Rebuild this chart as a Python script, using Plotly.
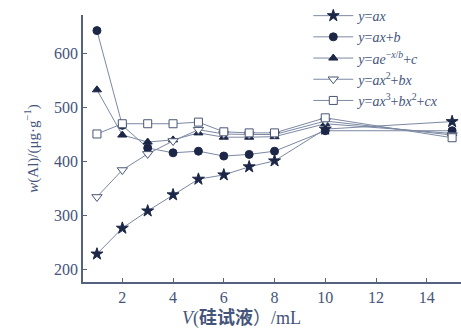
import plotly.graph_objects as go

V = [1, 2, 3, 4, 5, 6, 7, 8, 10, 15]
y_ax = [228, 276, 308, 338, 367, 375, 390, 401, 460, 474]
y_axb = [643, 467, 425, 416, 419, 410, 413, 419, 457, 457]
y_exp = [533, 449, 436, 440, 453, 445, 445, 446, 470, 452]
y_quad = [334, 384, 414, 438, 459, 451, 450, 450, 475, 449]
y_cubic = [451, 470, 470, 470, 473, 455, 453, 453, 481, 444]

names = [
    "<i>y</i>=<i>ax</i>",
    "<i>y</i>=<i>ax</i>+<i>b</i>",
    "<i>y</i>=<i>ae</i><sup>−<i>x</i>/<i>b</i></sup>+<i>c</i>",
    "<i>y</i>=<i>ax</i><sup>2</sup>+<i>bx</i>",
    "<i>y</i>=<i>ax</i><sup>3</sup>+<i>bx</i><sup>2</sup>+<i>cx</i>",
]
series = [y_ax, y_axb, y_exp, y_quad, y_cubic]
symbols = ["star", "circle", "triangle-up", "triangle-down", "square"]
sizes = [9, 8, 8, 9, 8]
filled = [True, True, True, False, False]

navy = "#1c2748"
linec = "#7c88a2"
axc = "#55627f"
txtc = "#45547a"

fig = go.Figure()
for nm, ys, sym, sz, fl in zip(names, series, symbols, sizes, filled):
    fig.add_trace(go.Scatter(
        x=V, y=ys, name=nm, mode="lines+markers", cliponaxis=False,
        line=dict(color=linec, width=1),
        marker=dict(symbol=sym, size=sz,
                    color=navy if fl else "white",
                    line=dict(color=navy if fl else "#4a5674", width=1)),
    ))

font = "Liberation Serif, Times New Roman, serif"
fig.update_layout(
    width=461, height=330,
    margin=dict(l=83, r=0, t=15, b=48),
    paper_bgcolor="white", plot_bgcolor="white",
    font=dict(family=font, color=txtc, size=16),
    legend=dict(x=0.596, y=1.056, xanchor="left", yanchor="top",
                bgcolor="rgba(0,0,0,0)", font=dict(size=14, color=txtc),
                tracegroupgap=0, itemwidth=40),
    xaxis=dict(range=[0.45, 15.35], tickvals=[2, 4, 6, 8, 10, 12, 14],
               showgrid=False, zeroline=False, showline=True, linecolor=axc,
               linewidth=1.5, ticks="inside", ticklen=4, tickcolor=axc,
               automargin=False),
    yaxis=dict(range=[176, 672], tickvals=[200, 300, 400, 500, 600],
               showgrid=False, zeroline=False, showline=True, linecolor=axc,
               linewidth=1.5, ticks="inside", ticklen=4, tickcolor=axc,
               automargin=False,
               title=dict(text="<i>w</i>(Al)/(μg·g<sup>−1</sup>)", standoff=12,
                          font=dict(size=15))),
    annotations=[dict(
        text="<i>V</i>(<b>硅试液</b>）/mL", xref="paper", yref="paper",
        x=0.42, y=-0.135, xanchor="center", yanchor="middle",
        showarrow=False,
        font=dict(size=18, family="Liberation Serif, Noto Sans CJK SC, serif",
                  color=txtc),
    )],
)
fig.write_html("out.html", config={"displayModeBar": False},
               post_script="document.body.style.margin='0';document.body.style.overflow='hidden';")
